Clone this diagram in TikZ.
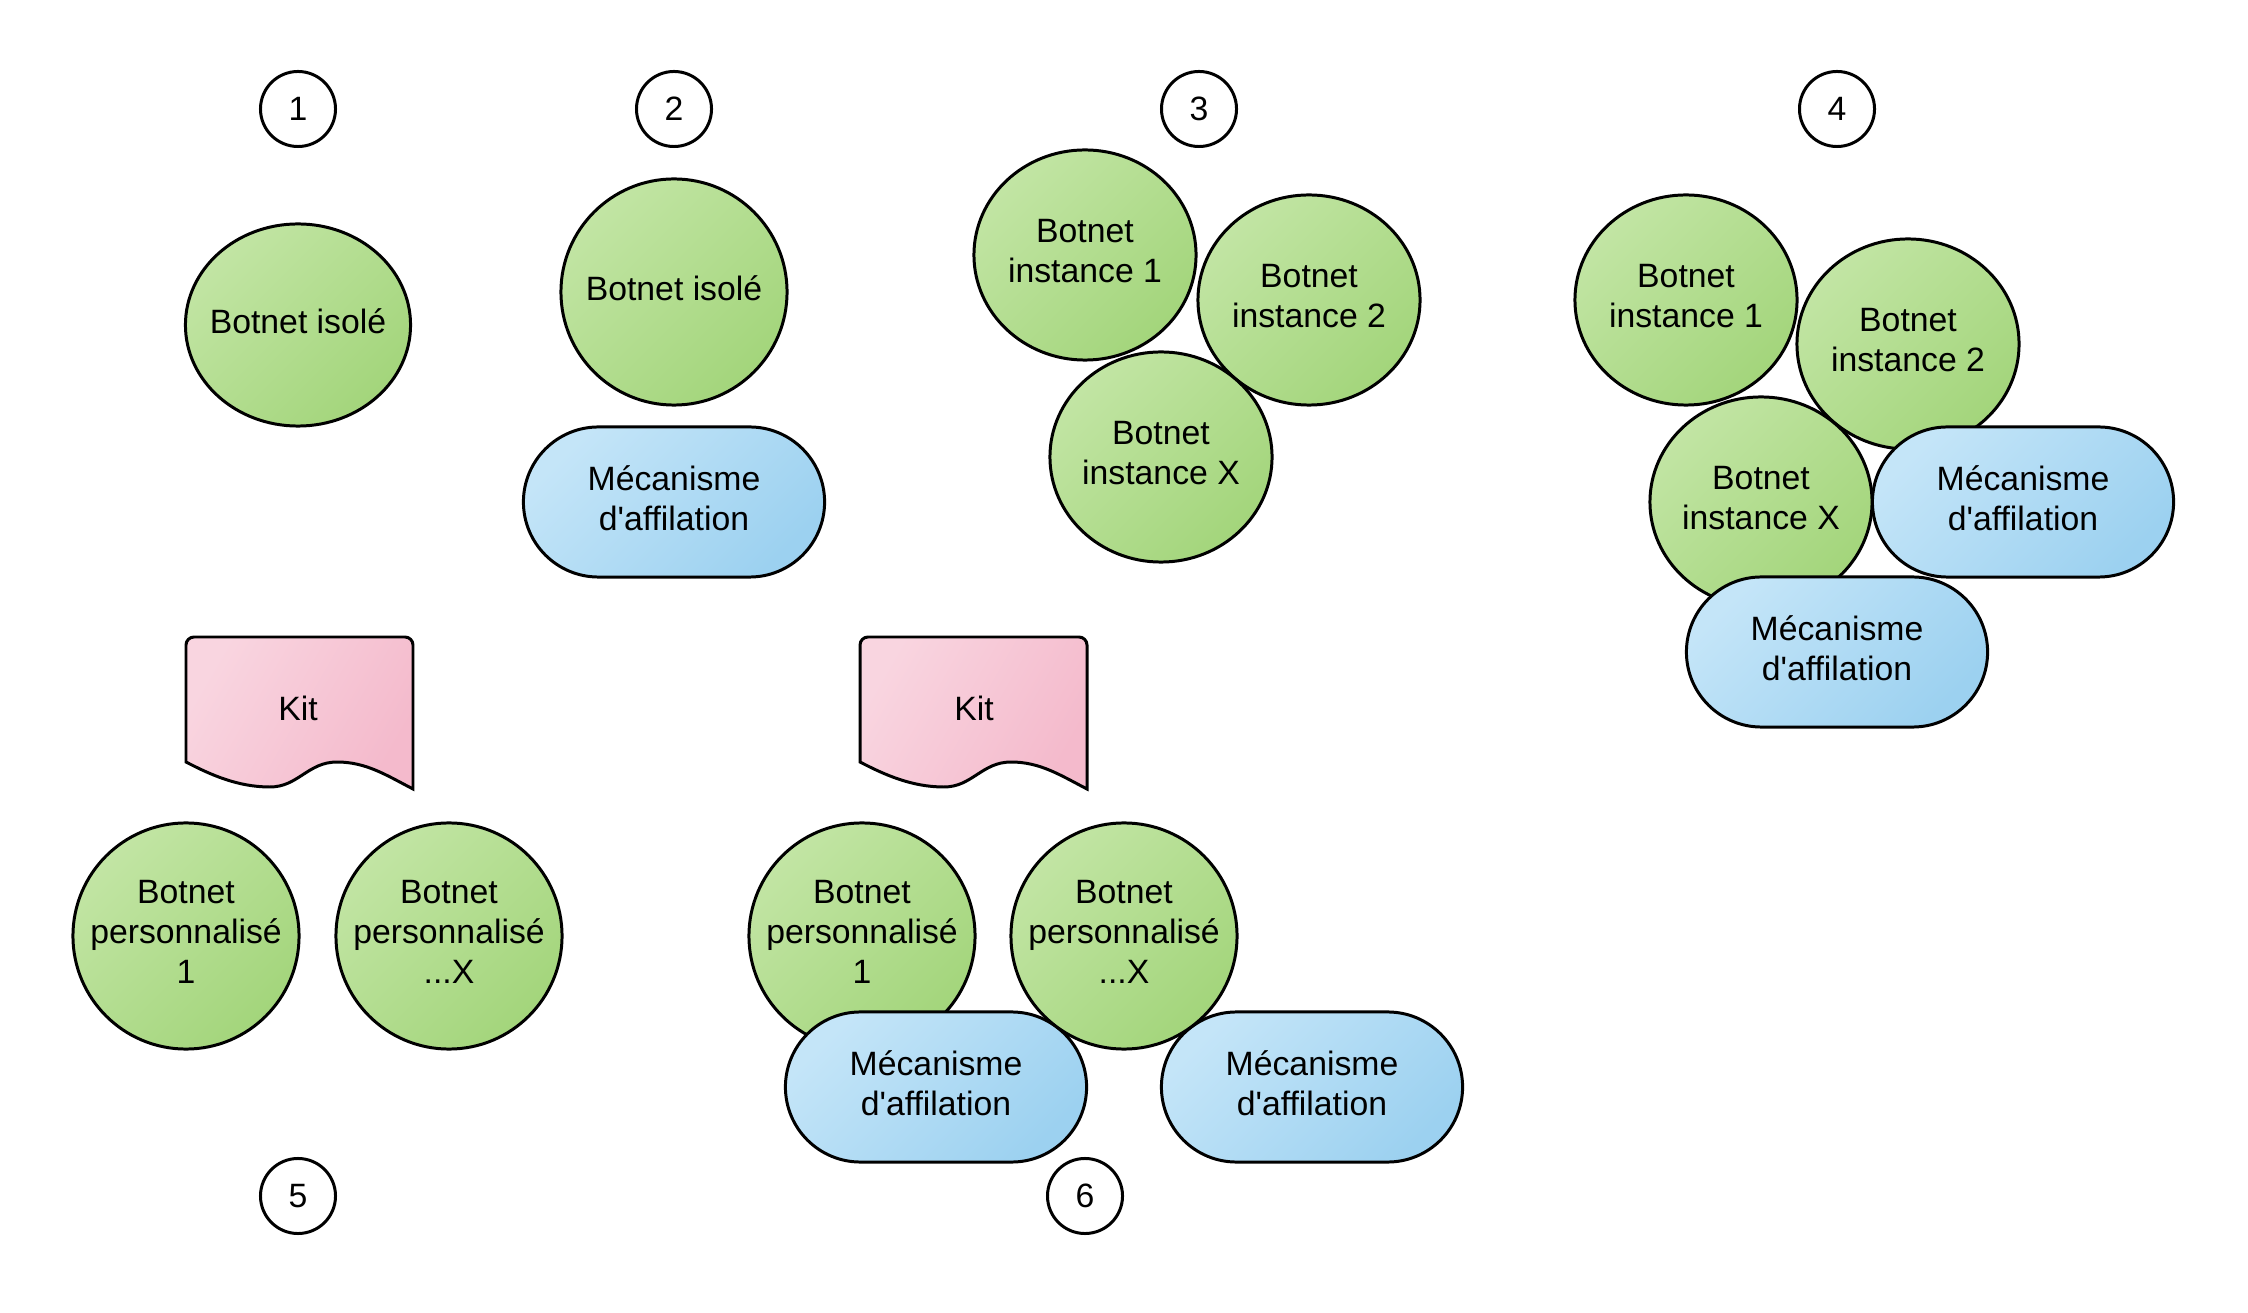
\documentclass[tikz,border=0pt]{standalone}
\usepackage{fontspec}
\setmainfont{Liberation Sans}
\usetikzlibrary{shapes.geometric,shapes.misc}

\definecolor{vertA}{HTML}{C2E5A4}
\definecolor{vertB}{HTML}{A3D57B}
\definecolor{bleuA}{HTML}{C4E5F8}
\definecolor{bleuB}{HTML}{9CD1F0}
\definecolor{roseA}{HTML}{F9D5E0}
\definecolor{roseB}{HTML}{F4BACC}

\newcommand{\aff}{d\textquotesingle affilation}

\tikzset{
  contour/.style={draw=black, line width=0.85pt},
  botnet/.style={contour, ellipse, inner ysep=0pt, inner xsep=-0.35cm, align=center,
    text depth=0.08cm,
    left color=vertA, right color=vertB, shading angle=45,
    minimum width=2.22cm, minimum height=2.10cm},
  rond/.style={botnet, minimum width=2.26cm, minimum height=2.26cm},
  meca/.style={contour, rounded rectangle, inner sep=0pt, align=center,
    text depth=0.08cm,
    left color=bleuA, right color=bleuB, shading angle=45,
    minimum width=3.01cm, minimum height=1.50cm},
  numero/.style={contour, circle, fill=white, inner sep=0pt, minimum size=0.75cm},
  kitdoc/.style={contour, left color=roseA, right color=roseB, shading angle=60},
}

% document shape of the kit, top left corner given
\newcommand{\kitforme}[1]{%
  \begin{scope}[shift={#1}]
    \draw[kitdoc] (0,125) [rounded corners=2.3pt] -- (0,0) -- (227,0) [sharp corners] -- (227,152)
      .. controls (200,138) and (180,125) .. (151,125)
      .. controls (122,125) and (112,150) .. (84,150)
      .. controls (52,150) and (25,138) .. (0,125) -- cycle;
  \end{scope}}

\begin{document}
\begin{tikzpicture}[x=0.01cm, y=-0.01cm, font=\fontsize{9.6}{11.4}\selectfont]
  \useasboundingbox (0,0) rectangle (2248,1313);

  % 1
  \node[numero] (n1) at (298,109) {1};
  \node[botnet, minimum width=2.25cm, minimum height=2.02cm] (isole1) at (298,325) {Botnet isolé};

  % 2
  \node[numero] (n2) at (674,109) {2};
  \node[rond] (isole2) at (674,292) {Botnet isolé};
  \node[meca] (meca2) at (674,502) {Mécanisme\\\aff};

  % 3
  \node[numero] (n3) at (1199,109) {3};
  \node[botnet] (c3i1) at (1085,255) {Botnet\\instance 1};
  \node[botnet] (c3i2) at (1309,300) {Botnet\\instance 2};
  \node[botnet] (c3ix) at (1161,457) {Botnet\\instance X};

  % 4
  \node[numero] (n4) at (1837,109) {4};
  \node[botnet] (c4i1) at (1686,300) {Botnet\\instance 1};
  \node[botnet] (c4i2) at (1908,344) {Botnet\\instance 2};
  \node[botnet] (c4ix) at (1761,502) {Botnet\\instance X};
  \node[meca] (m4a) at (2023,502) {Mécanisme\\\aff};
  \node[meca] (m4b) at (1837,652) {Mécanisme\\\aff};

  % 5
  \kitforme{(186,637)}
  \node (kit5) at (298,708) {Kit};
  \node[rond] (p5a) at (186,936) {Botnet\\personnalisé\\1};
  \node[rond] (p5x) at (449,936) {Botnet\\personnalisé\\...X};
  \node[numero] (n5) at (298,1196) {5};

  % 6
  \kitforme{(860,637)}
  \node (kit6) at (974,708) {Kit};
  \node[rond] (p6a) at (862,936) {Botnet\\personnalisé\\1};
  \node[meca] (m6a) at (936,1087) {Mécanisme\\\aff};
  \node[meca] (m6x) at (1312,1087) {Mécanisme\\\aff};
  \node[rond] (p6x) at (1124,936) {Botnet\\personnalisé\\...X};
  \node[numero] (n6) at (1085,1196) {6};
\end{tikzpicture}
\end{document}
